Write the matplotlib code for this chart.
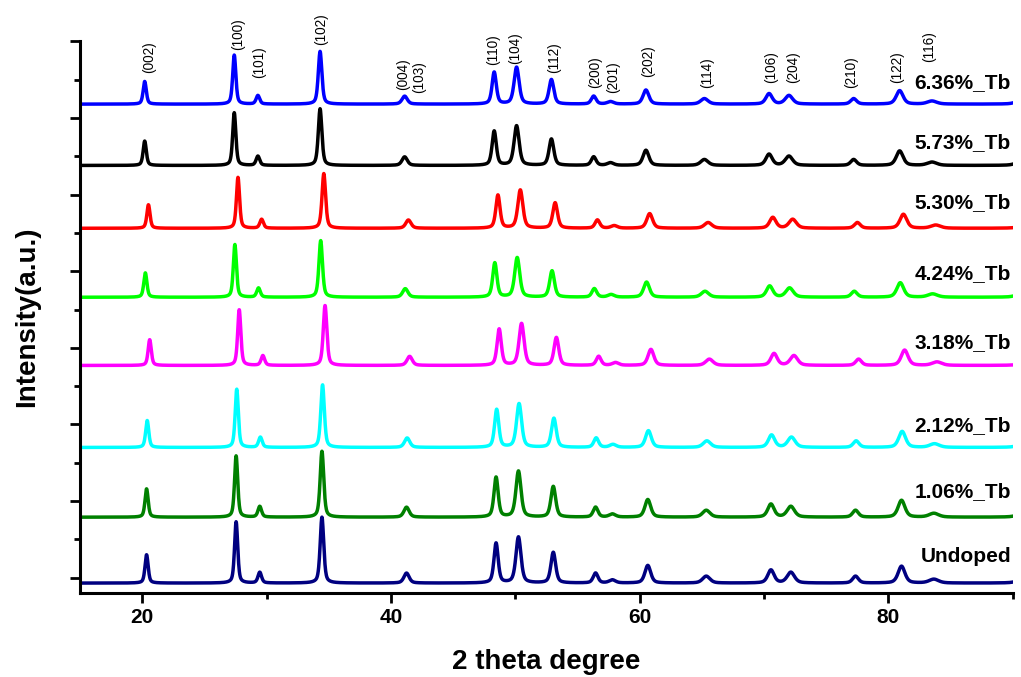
import numpy as np
import matplotlib
matplotlib.use("Agg")
import matplotlib.pyplot as plt
from matplotlib.ticker import MultipleLocator

plt.rcParams['font.family'] = ['Liberation Sans', 'DejaVu Sans']

# reflection list (2theta of the top pattern, relative height, FWHM)
hkl = ['(002)', '(100)', '(101)', '(102)', '(004)', '(110)', '(104)', '(112)', '(200)',
       '(201)', '(202)', '(114)', '(106)', '(204)', '(210)', '(122)', '(116)', '']
peak_pos = [20.2, 27.4, 29.3, 34.3, 41.1, 48.3, 50.1, 52.9, 56.3,
            57.65, 60.5, 65.2, 70.4, 72.0, 77.2, 80.9, 83.5, 90.8]
peak_height = [37, 80, 14, 86, 13, 52, 60, 40, 13,
               4, 23, 9, 17, 14, 9, 22, 5, 9]
peak_fwhm = [0.3, 0.3, 0.34, 0.34, 0.5, 0.4, 0.48, 0.45, 0.45,
             0.6, 0.55, 0.7, 0.6, 0.7, 0.55, 0.65, 0.9, 1.0]

# samples, bottom to top
samples = ['Undoped', '1.06%_Tb', '2.12%_Tb', '3.18%_Tb', '4.24%_Tb', '5.30%_Tb', '5.73%_Tb', '6.36%_Tb']
colors = ['#000080', '#008000', '#00FFFF', '#FF00FF', '#00FF00', '#FF0000', '#000000', '#0000FF']
offsets = [-7, 79, 170, 277, 366, 456, 538, 618]
scales = [1.0, 1.0, 0.95, 0.91, 0.86, 0.83, 0.86, 0.80]
shifts = [0.15, 0.15, 0.2, 0.4, 0.05, 0.3, 0.0, 0.0]
label_y = [28, 112, 199, 307, 397, 490, 568, 646]

# hkl label positions above the top pattern
hkl_x = [20.54, 27.7, 29.4, 34.4, 41.0, 48.25, 50.0, 53.1, 56.4,
         57.9, 60.7, 65.4, 70.6, 72.35, 77.0, 80.7, 83.25]
hkl_y = [658, 688, 652, 695, 636, 669, 671, 658, 639,
         633, 653, 639, 646, 645, 639, 646, 673]
extra_label = ('(103)', 42.3, 632)


def pattern(x, shift, scale):
    y = np.zeros_like(x)
    for p, h, w in zip(peak_pos, peak_height, peak_fwhm):
        g = np.exp(-4 * np.log(2) * ((x - p - shift) / w) ** 2)
        l = 1.0 / (1 + 4 * ((x - p - shift) / w) ** 2)
        y += h * scale * (0.5 * g + 0.5 * l)
    return y


fig = plt.figure(figsize=(10.21, 6.77), dpi=100, facecolor='white')
ax = fig.add_axes([0.0784, 0.124, 0.9136, 0.815])

x = np.linspace(15, 90, 4000)
for name, c, off, sc, sh, ly in zip(samples, colors, offsets, scales, shifts, label_y):
    ax.plot(x, pattern(x, sh, sc) + off, color=c, linewidth=2.5)
    ax.text(89.85, ly, name, ha='right', va='center', fontsize=15, fontweight='bold')

for lab, lx, ly in zip(hkl, hkl_x, hkl_y):
    ax.text(lx, ly, lab, rotation=90, ha='center', va='bottom', fontsize=9.8)
ax.text(extra_label[1], extra_label[2], extra_label[0], rotation=90, ha='center', va='bottom', fontsize=9.8)

ax.set_xlim(15, 90)
ax.set_ylim(-20, 700)
ax.xaxis.set_major_locator(MultipleLocator(20))
ax.xaxis.set_minor_locator(MultipleLocator(10))
ax.yaxis.set_major_locator(MultipleLocator(100))
ax.yaxis.set_minor_locator(MultipleLocator(50))
ax.set_yticklabels([])
ax.tick_params(which='major', direction='out', length=7, width=2, labelsize=15)
ax.tick_params(which='minor', direction='out', length=4, width=2)
for lab in ax.get_xticklabels():
    lab.set_fontweight('bold')

for s in ['top', 'right']:
    ax.spines[s].set_visible(False)
for s in ['left', 'bottom']:
    ax.spines[s].set_linewidth(2.2)

ax.set_xlabel('2 theta degree', fontsize=20, fontweight='bold', labelpad=16)
ax.set_ylabel('Intensity(a.u.)', fontsize=20, fontweight='bold', labelpad=18)

fig.savefig('out.png', dpi=100, facecolor='white')
